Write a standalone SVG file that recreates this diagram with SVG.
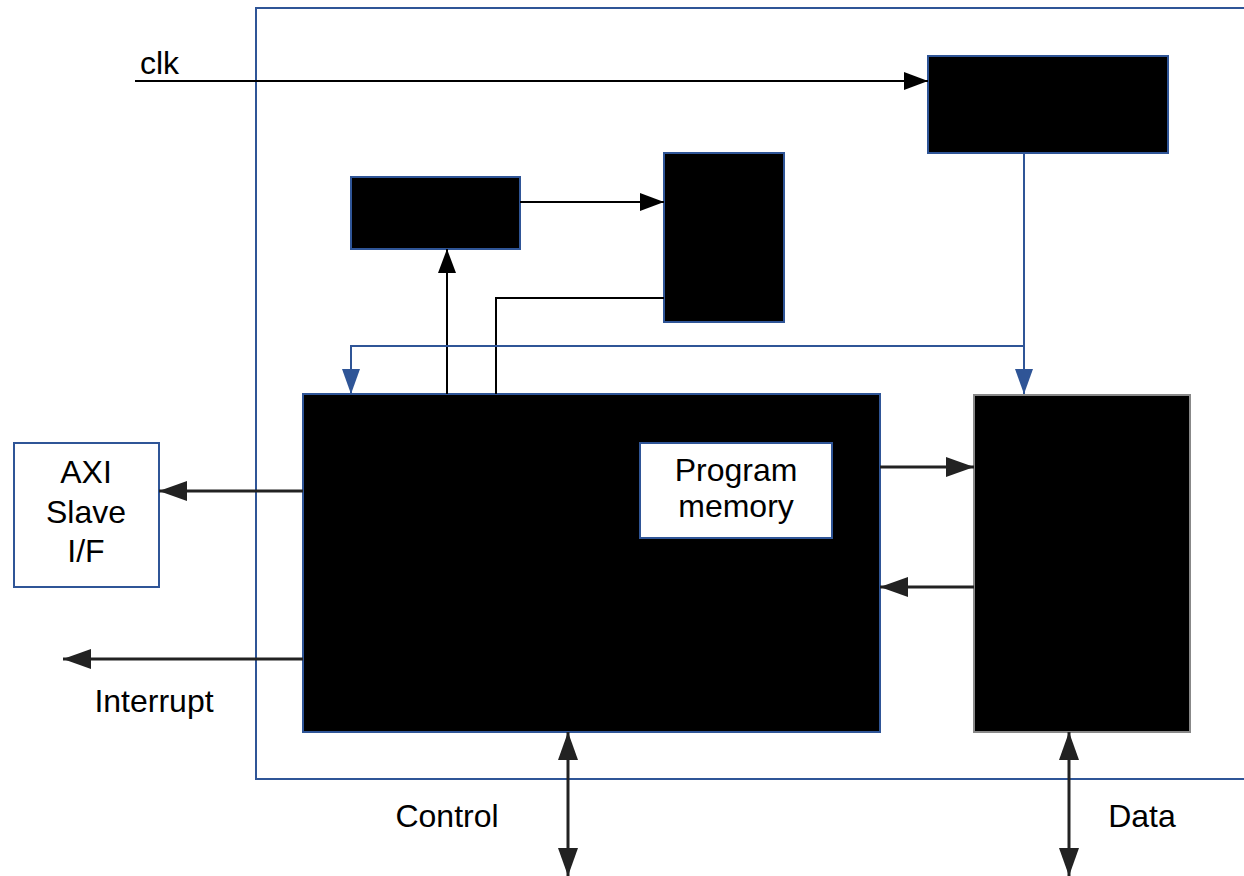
<svg xmlns="http://www.w3.org/2000/svg" width="1244" height="876" viewBox="0 0 1244 876">
<style>
.box{fill:#000;stroke:#2f5597;stroke-width:2}
.wbox{fill:#fff;stroke:#2f5597;stroke-width:2}
.k{fill:none;stroke:#000;stroke-width:2}
.kk{fill:none;stroke:#222;stroke-width:3}
.b{fill:none;stroke:#2f5597;stroke-width:2}
text{font-family:"Liberation Sans",Arial,sans-serif;font-size:32px;fill:#000}
</style>
<defs>
<marker id="ak" markerUnits="userSpaceOnUse" markerWidth="24" markerHeight="18" refX="24" refY="9" orient="auto-start-reverse"><path d="M0,0 L24,9 L0,18 z" fill="#000"/></marker>
<marker id="akk" markerUnits="userSpaceOnUse" markerWidth="28" markerHeight="20" refX="28" refY="10" orient="auto-start-reverse"><path d="M0,0 L28,10 L0,20 z" fill="#222"/></marker>
<marker id="ab" markerUnits="userSpaceOnUse" markerWidth="25" markerHeight="18" refX="25" refY="9" orient="auto"><path d="M0,0 L25,9 L0,18 z" fill="#2f5597"/></marker>
</defs>
<rect id="frame" x="256" y="8" width="1000" height="771" fill="none" stroke="#2f5597" stroke-width="2"/>
<g id="clkgen"><rect class="box" x="928" y="56" width="240" height="97"/></g>
<g id="smallbox"><rect class="box" x="351" y="177" width="169" height="72"/></g>
<g id="tallbox"><rect class="box" x="664" y="153" width="120" height="169"/></g>
<g id="main"><rect class="box" x="303" y="394" width="577" height="338"/></g>
<g id="progmem"><rect class="wbox" x="640" y="443" width="192" height="95"/><text x="736" y="481" text-anchor="middle">Program</text><text x="736" y="517" text-anchor="middle">memory</text></g>
<g id="databox"><rect x="974" y="395" width="216" height="337" fill="#000" stroke="#888" stroke-width="2"/></g>
<g id="axi"><rect class="wbox" x="14" y="443" width="145" height="144"/><text x="86" y="483" text-anchor="middle">AXI</text><text x="86" y="523" text-anchor="middle">Slave</text><text x="86" y="562" text-anchor="middle">I/F</text></g>
<g id="connectors">
<path class="k" d="M135,81 H928" marker-end="url(#ak)"/>
<path class="k" d="M520,202 H664" marker-end="url(#ak)"/>
<path class="k" d="M447,394 V249" marker-end="url(#ak)"/>
<path class="k" d="M664,298 H496 V394"/>
<path class="b" d="M1024,153 V394" marker-end="url(#ab)"/>
<path class="b" d="M1024,346 H351 V394" marker-end="url(#ab)"/>
<path class="kk" d="M880,467 H974" marker-end="url(#akk)"/>
<path class="kk" d="M974,587 H880" marker-end="url(#akk)"/>
<path class="kk" d="M303,491 H159" marker-end="url(#akk)"/>
<path class="kk" d="M303,659 H63" marker-end="url(#akk)"/>
<path class="kk" d="M568,732 V876" marker-start="url(#akk)" marker-end="url(#akk)"/>
<path class="kk" d="M1069,732 V876" marker-start="url(#akk)" marker-end="url(#akk)"/>
</g>
<text x="140" y="74">clk</text>
<text x="154" y="712" text-anchor="middle">Interrupt</text>
<text x="447" y="827" text-anchor="middle">Control</text>
<text x="1142" y="827" text-anchor="middle">Data</text>
</svg>
